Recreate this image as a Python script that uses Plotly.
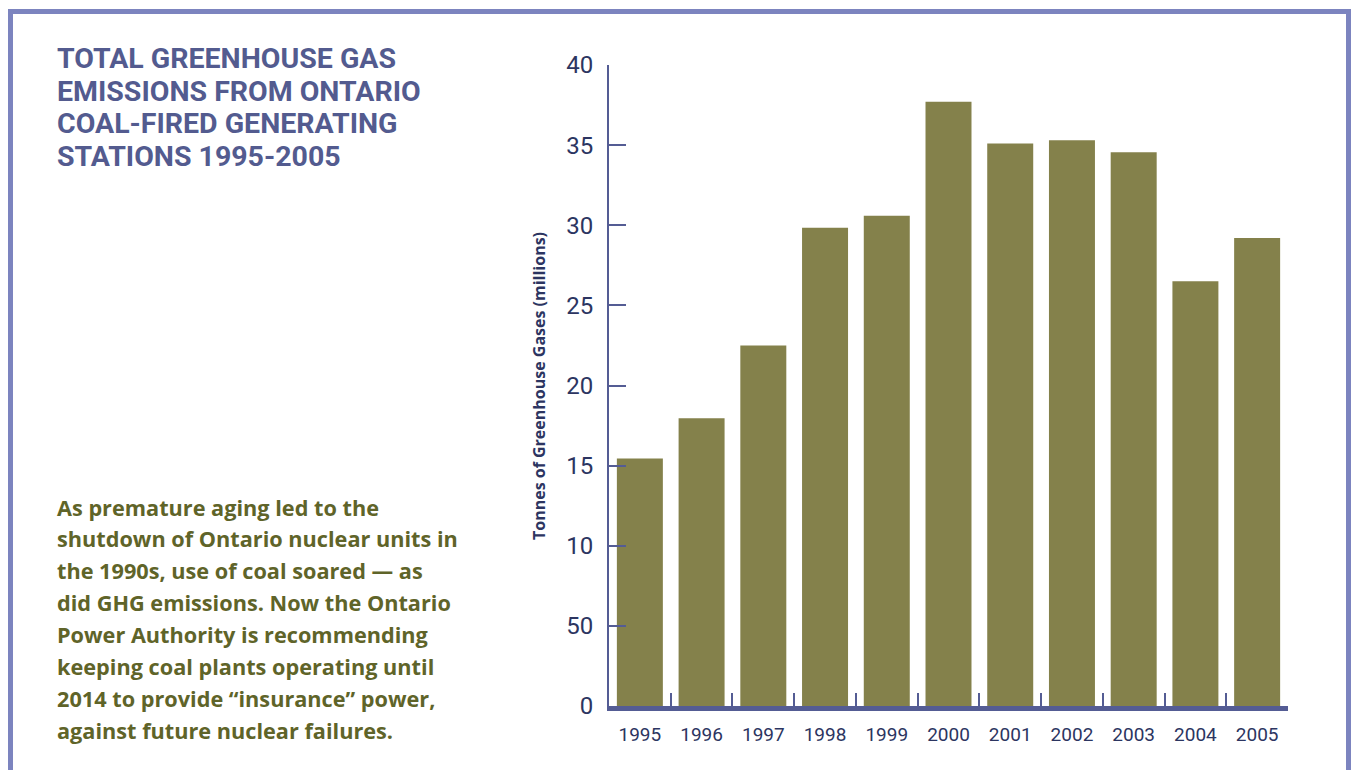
import plotly.graph_objects as go

years = ["1995", "1996", "1997", "1998", "1999", "2000", "2001", "2002", "2003", "2004", "2005"]
emissions = [15.45, 17.95, 22.5, 29.85, 30.6, 37.7, 35.1, 35.3, 34.55, 26.5, 29.2]

y_tickvals = [0, 5, 10, 15, 20, 25, 30, 35, 40]
y_ticktext = ["0", "50", "10", "15", "20", "25", "30", "35", "40"]

title_lines = ["TOTAL GREENHOUSE GAS", "EMISSIONS FROM ONTARIO",
               "COAL-FIRED GENERATING", "STATIONS 1995-2005"]
body_lines = ["As premature aging led to the",
              "shutdown of Ontario nuclear units in",
              "the 1990s, use of coal soared \u2014 as",
              "did GHG emissions. Now the Ontario",
              "Power Authority is recommending",
              "keeping coal plants operating until",
              "2014 to provide \u201cinsurance\u201d power,",
              "against future nuclear failures."]
y_title = "Tonnes of Greenhouse Gases (millions)"

W, H = 1351, 770
ML, MR, MT, MB = 609, 63, 65, 64
PW, PH = W - ML - MR, H - MT - MB


def px(x):
    return (x - ML) / PW


def py(y):
    return (H - MB - y) / PH


AXIS = "#545c94"
NAVY = "#2c3561"
TITLE_C = "#535b8f"
OLIVE_T = "#5f6429"
BAR = "#84814b"
FRAME = "#7c84bf"

fig = go.Figure(go.Bar(x=years, y=emissions, marker=dict(color=BAR, line=dict(width=0)),
                       width=0.745, hoverinfo="x+y"))

annotations = []
for i, t in enumerate(title_lines):
    annotations.append(dict(text=t, xref="paper", yref="paper", x=px(55), y=py(58.3 + 32.8 * i),
                            xanchor="left", yanchor="middle", showarrow=False,
                            font=dict(family="Roboto", size=28.5, color=TITLE_C, weight="bold")))
for i, t in enumerate(body_lines):
    annotations.append(dict(text=t, xref="paper", yref="paper", x=px(55), y=py(507 + 31.86 * i),
                            xanchor="left", yanchor="middle", showarrow=False,
                            font=dict(family="Open Sans", size=21.7, color=OLIVE_T, weight="bold")))
annotations.append(dict(text=y_title, xref="paper", yref="paper", x=px(539), y=py(386),
                        xanchor="center", yanchor="middle", textangle=-90, showarrow=False,
                        font=dict(family="Open Sans", size=16, color=NAVY, weight="bold")))

fig.update_layout(
    width=W, height=H,
    margin=dict(l=ML, r=MR, t=MT, b=MB, autoexpand=False),
    paper_bgcolor="white", plot_bgcolor="white",
    showlegend=False,
    bargap=0.255,
    annotations=annotations,
    shapes=[dict(type="rect", xref="paper", yref="paper",
                 x0=px(10.5), x1=px(1348.5), y0=py(790), y1=py(11.5),
                 line=dict(color=FRAME, width=5), fillcolor="rgba(0,0,0,0)", layer="below")],
    xaxis=dict(type="category", range=[-0.5, 10.5], showgrid=False, zeroline=False,
               showline=True, linecolor=AXIS, linewidth=5,
               ticks="inside", tickson="boundaries", ticklen=13, tickwidth=2, tickcolor=AXIS,
               tickfont=dict(family="Roboto", size=19, color=NAVY), ticklabelstandoff=7),
    yaxis=dict(range=[0, 40], showgrid=False, zeroline=False,
               showline=True, linecolor=AXIS, linewidth=2,
               tickvals=y_tickvals, ticktext=y_ticktext,
               ticks="inside", ticklen=17, tickwidth=2, tickcolor=AXIS,
               tickfont=dict(family="Roboto", size=24, color=NAVY), ticklabelstandoff=9),
)

fig.write_html("out.html")
